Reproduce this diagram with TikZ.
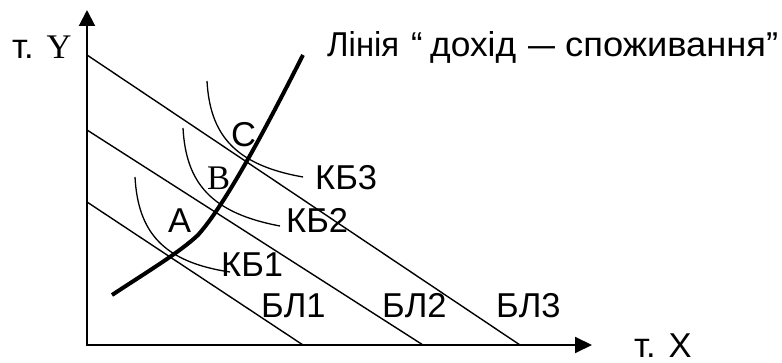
\documentclass[tikz,border=0pt]{standalone}
\usepackage{fontspec}
\usepackage{graphicx}
\setmainfont{Liberation Sans}
\newfontfamily\serifY{Liberation Serif}
\usetikzlibrary{arrows.meta}
\begin{document}
\begin{tikzpicture}[x=1pt,y=-1pt,
  lbl/.style={font=\fontsize{34.5}{40}\selectfont, inner sep=0pt, anchor=base west},
  axis/.style={line width=2pt, line join=miter, {Triangle[length=16pt,width=16pt]}-{Triangle[length=17pt,width=16pt]}},
  budget/.style={line width=1.4pt},
  indiff/.style={line width=1.3pt},
  icc/.style={line width=4pt, line join=round}]
\useasboundingbox (0,0) rectangle (782,363);
% axes
\coordinate (ytip) at (87,10);
\coordinate (orig) at (87,345);
\coordinate (xtip) at (592,345);
\draw[axis] (ytip) -- (orig) -- (xtip);
% budget lines
\coordinate (bl1a) at (87,202); \coordinate (bl1b) at (303,345);
\coordinate (bl2a) at (87,130); \coordinate (bl2b) at (423,345);
\coordinate (bl3a) at (87,55);  \coordinate (bl3b) at (520,345);
\draw[budget] (bl1a) -- (bl1b);
\draw[budget] (bl2a) -- (bl2b);
\draw[budget] (bl3a) -- (bl3b);
% indifference curves
\coordinate (kb1a) at (135,177); \coordinate (kb1b) at (230,272);
\coordinate (kb2a) at (183,128); \coordinate (kb2b) at (280,226);
\coordinate (kb3a) at (207,81);  \coordinate (kb3b) at (303,177);
\draw[indiff] (kb1a) .. controls (138,232) and (163,262) .. (kb1b);
\draw[indiff] (kb2a) .. controls (186,183) and (211,213) .. (kb2b);
\draw[indiff] (kb3a) .. controls (210,135) and (235,165) .. (kb3b);
% income-consumption line
\coordinate (icc0) at (112,295);
\coordinate (icck) at (198,235);
\coordinate (icc1) at (303,55);
\draw[icc] (icc0) .. controls (150,270) and (180,252) .. (icck)
  .. controls (225,205) and (265,130) .. (icc1);
% labels
\node[lbl] (ty) at (12,59) {т. {\serifY Y}};
\node[lbl] (tx) at (634,357) {т. X};
\node[lbl] (title) at (327,57) {\makebox[81pt][l]{\resizebox{72pt}{\height}{Лінія}}\makebox[22pt][l]{\hspace{3pt}“}\makebox[98pt][l]{\resizebox{86pt}{\height}{дохід}}\makebox[37pt][l]{\resizebox{27pt}{\height}{–}}\resizebox{213pt}{\height}{споживання”}};
\node[lbl] (pc) at (231,147) {C};
\node[lbl] (pb) at (207,190) {\serifY B};
\node[lbl] (pa) at (168,233) {A};
\node[lbl] (kb3) at (315,190) {КБ3};
\node[lbl] (kb2) at (286,233) {КБ2};
\node[lbl] (kb1) at (221,277) {КБ1};
\node[lbl] (bl1) at (261,318) {БЛ1};
\node[lbl] (bl2) at (382,318) {БЛ2};
\node[lbl] (bl3) at (496,318) {БЛ3};
\end{tikzpicture}
\end{document}
